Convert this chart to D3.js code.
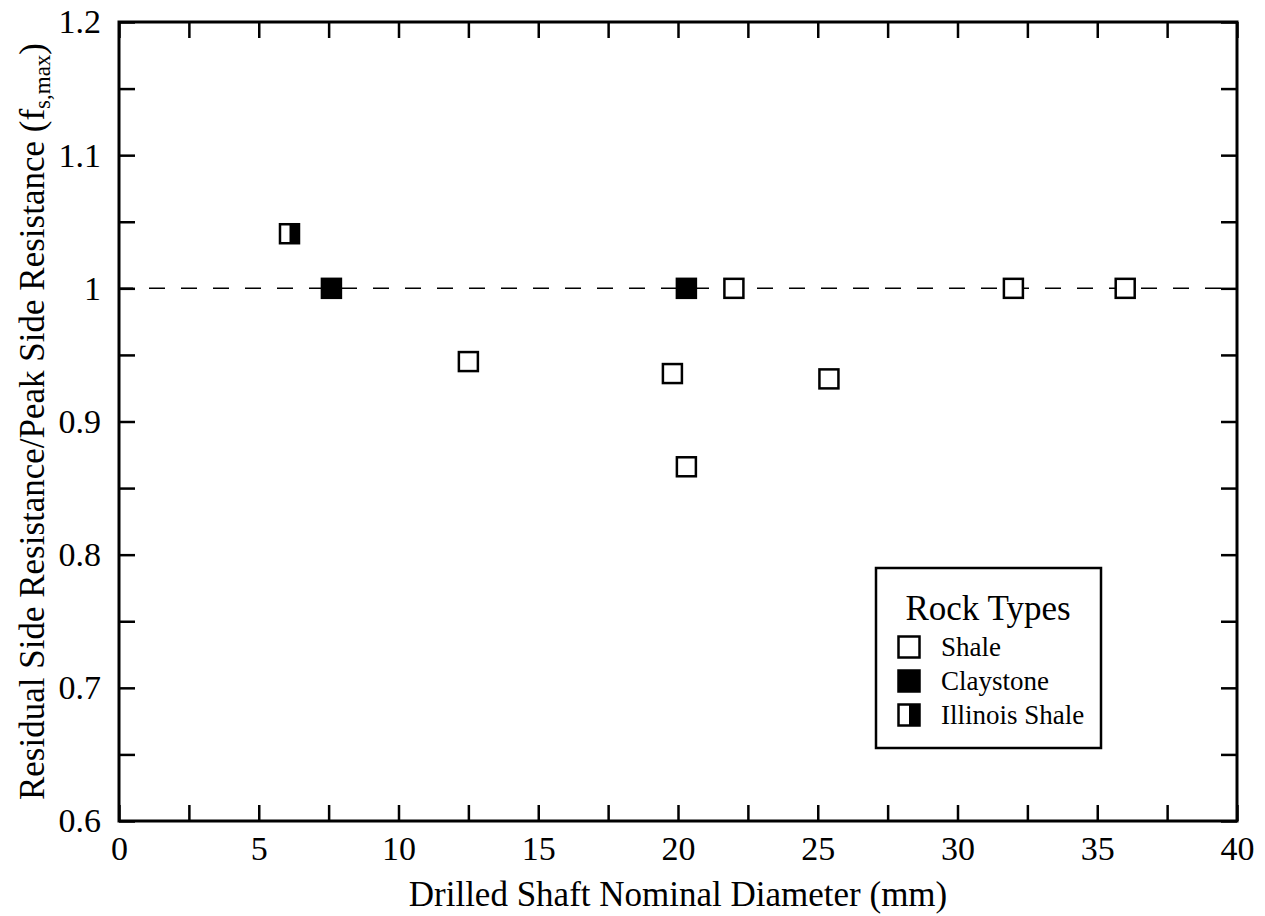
<!DOCTYPE html>
<html>
<head>
<meta charset="utf-8">
<script src="https://cdn.jsdelivr.net/npm/d3@7"></script>
<style>
  body { margin: 0; background: #fff; }
  text { font-family: "Liberation Serif", "Times New Roman", serif; fill: #000; }
</style>
</head>
<body>
<div class="chart"></div>
<script>
let width = 1265
let height = 916

// data
const shaleX = [12.5, 19.8, 20.3, 22.0, 25.4, 32.0, 36.0]
const shaleY = [0.945, 0.936, 0.866, 1.0, 0.932, 1.0, 1.0]
const claystoneX = [7.6, 20.3]
const claystoneY = [1.0, 1.0]
const illinoisX = [6.1]
const illinoisY = [1.041]

const xTickLabels = [0, 5, 10, 15, 20, 25, 30, 35, 40]
const yTickLabels = [0.6, 0.7, 0.8, 0.9, 1, 1.1, 1.2]
const legendNames = ["Shale", "Claystone", "Illinois Shale"]
const refLine = 1.0

const m = {left: 119, right: 1237, top: 22, bottom: 821}

const x = d3.scaleLinear().domain([0, 40]).range([m.left, m.right])
const y = d3.scaleLinear().domain([0.6, 1.2]).range([m.bottom, m.top])

const svg = d3.select(".chart")
  .append("svg")
  .attr("width", width)
  .attr("height", height)

const tickLen = 16
const xMinor = d3.range(0, 40.01, 2.5)
const yMinor = d3.range(0.6, 1.2001, 0.05)

// bottom + top axes
const xb = svg.append("g").attr("transform", `translate(0,${m.bottom})`)
  .call(d3.axisBottom(x).tickValues(xMinor).tickSize(-tickLen).tickSizeOuter(0)
    .tickFormat(d => xTickLabels.includes(d) ? d : ""))
const xt = svg.append("g").attr("transform", `translate(0,${m.top})`)
  .call(d3.axisTop(x).tickValues(xMinor).tickSize(-tickLen).tickSizeOuter(0).tickFormat(""))
const yl = svg.append("g").attr("transform", `translate(${m.left},0)`)
  .call(d3.axisLeft(y).tickValues(yMinor).tickSize(-tickLen).tickSizeOuter(0)
    .tickFormat(d => {
      const r = Math.round(d * 100) / 100
      return yTickLabels.some(v => Math.abs(v - r) < 1e-6) ? d3.format("~g")(r) : ""
    }).tickPadding(tickLen + 2))
const yr = svg.append("g").attr("transform", `translate(${m.right},0)`)
  .call(d3.axisRight(y).tickValues(yMinor).tickSize(-tickLen).tickSizeOuter(0).tickFormat(""))

;[xb, xt, yl, yr].forEach(g => {
  g.select(".domain").remove()
  g.selectAll(".tick line").attr("stroke", "#000").attr("stroke-width", 2.5)
  g.selectAll(".tick text").style("font-size", "34px").style("font-family", "Liberation Serif")
})
xb.selectAll(".tick text").attr("dy", "0.71em").attr("y", 15)

// frame
svg.append("rect")
  .attr("x", m.left).attr("y", m.top)
  .attr("width", m.right - m.left).attr("height", m.bottom - m.top)
  .attr("fill", "none").attr("stroke", "#000").attr("stroke-width", 3)

// reference line
svg.append("line")
  .attr("x1", x(0)).attr("x2", x(40))
  .attr("y1", y(refLine)).attr("y2", y(refLine))
  .attr("stroke", "#000").attr("stroke-width", 1.5)
  .attr("stroke-dasharray", "16,16").attr("stroke-dashoffset", 2)

const sz = 19
const toPts = (xs, ys) => xs.map((v, i) => ({x: v, y: ys[i]}))

svg.selectAll(".shale")
  .data(toPts(shaleX, shaleY))
  .enter().append("rect")
  .attr("x", d => x(d.x) - sz / 2).attr("y", d => y(d.y) - sz / 2)
  .attr("width", sz).attr("height", sz)
  .attr("fill", "#fff").attr("stroke", "#000").attr("stroke-width", 2.5)

svg.selectAll(".clay")
  .data(toPts(claystoneX, claystoneY))
  .enter().append("rect")
  .attr("x", d => x(d.x) - sz / 2).attr("y", d => y(d.y) - sz / 2)
  .attr("width", sz).attr("height", sz)
  .attr("fill", "#000").attr("stroke", "#000").attr("stroke-width", 2.5)

function halfSquare(g, cx, cy, s) {
  g.append("rect").attr("x", cx - s / 2).attr("y", cy - s / 2)
    .attr("width", s).attr("height", s)
    .attr("fill", "#fff").attr("stroke", "#000").attr("stroke-width", 2.5)
  g.append("rect").attr("x", cx).attr("y", cy - s / 2)
    .attr("width", s / 2).attr("height", s)
    .attr("fill", "#000")
}
toPts(illinoisX, illinoisY).forEach(d => halfSquare(svg, x(d.x), y(d.y), sz))

// axis titles
svg.append("text")
  .attr("x", (m.left + m.right) / 2).attr("y", 906)
  .attr("text-anchor", "middle").style("font-size", "35px")
  .text("Drilled Shaft Nominal Diameter (mm)")

const yt = svg.append("text")
  .attr("transform", `translate(44,${(m.top + m.bottom) / 2}) rotate(-90)`)
  .attr("text-anchor", "middle").style("font-size", "35px")
yt.append("tspan").text("Residual Side Resistance/Peak Side Resistance (f")
yt.append("tspan").attr("baseline-shift", "-25%").style("font-size", "23px").text("s,max")
yt.append("tspan").text(")")

// legend
const lg = svg.append("g").attr("transform", "translate(876,568)")
lg.append("rect").attr("width", 225).attr("height", 180)
  .attr("fill", "#fff").attr("stroke", "#000").attr("stroke-width", 2.5)
lg.append("text").attr("x", 112).attr("y", 52)
  .attr("text-anchor", "middle").style("font-size", "35px").text("Rock Types")

const ls = 21
legendNames.forEach((name, i) => {
  const cy = 79 + i * 34
  const cx = 33
  if (i === 0) {
    lg.append("rect").attr("x", cx - ls / 2).attr("y", cy - ls / 2).attr("width", ls).attr("height", ls)
      .attr("fill", "#fff").attr("stroke", "#000").attr("stroke-width", 2.5)
  } else if (i === 1) {
    lg.append("rect").attr("x", cx - ls / 2).attr("y", cy - ls / 2).attr("width", ls).attr("height", ls)
      .attr("fill", "#000").attr("stroke", "#000").attr("stroke-width", 2.5)
  } else {
    halfSquare(lg, cx, cy, ls)
  }
  lg.append("text").attr("x", 65).attr("y", cy).attr("dy", "0.35em")
    .style("font-size", "27px").text(name)
})
</script>
</body>
</html>
